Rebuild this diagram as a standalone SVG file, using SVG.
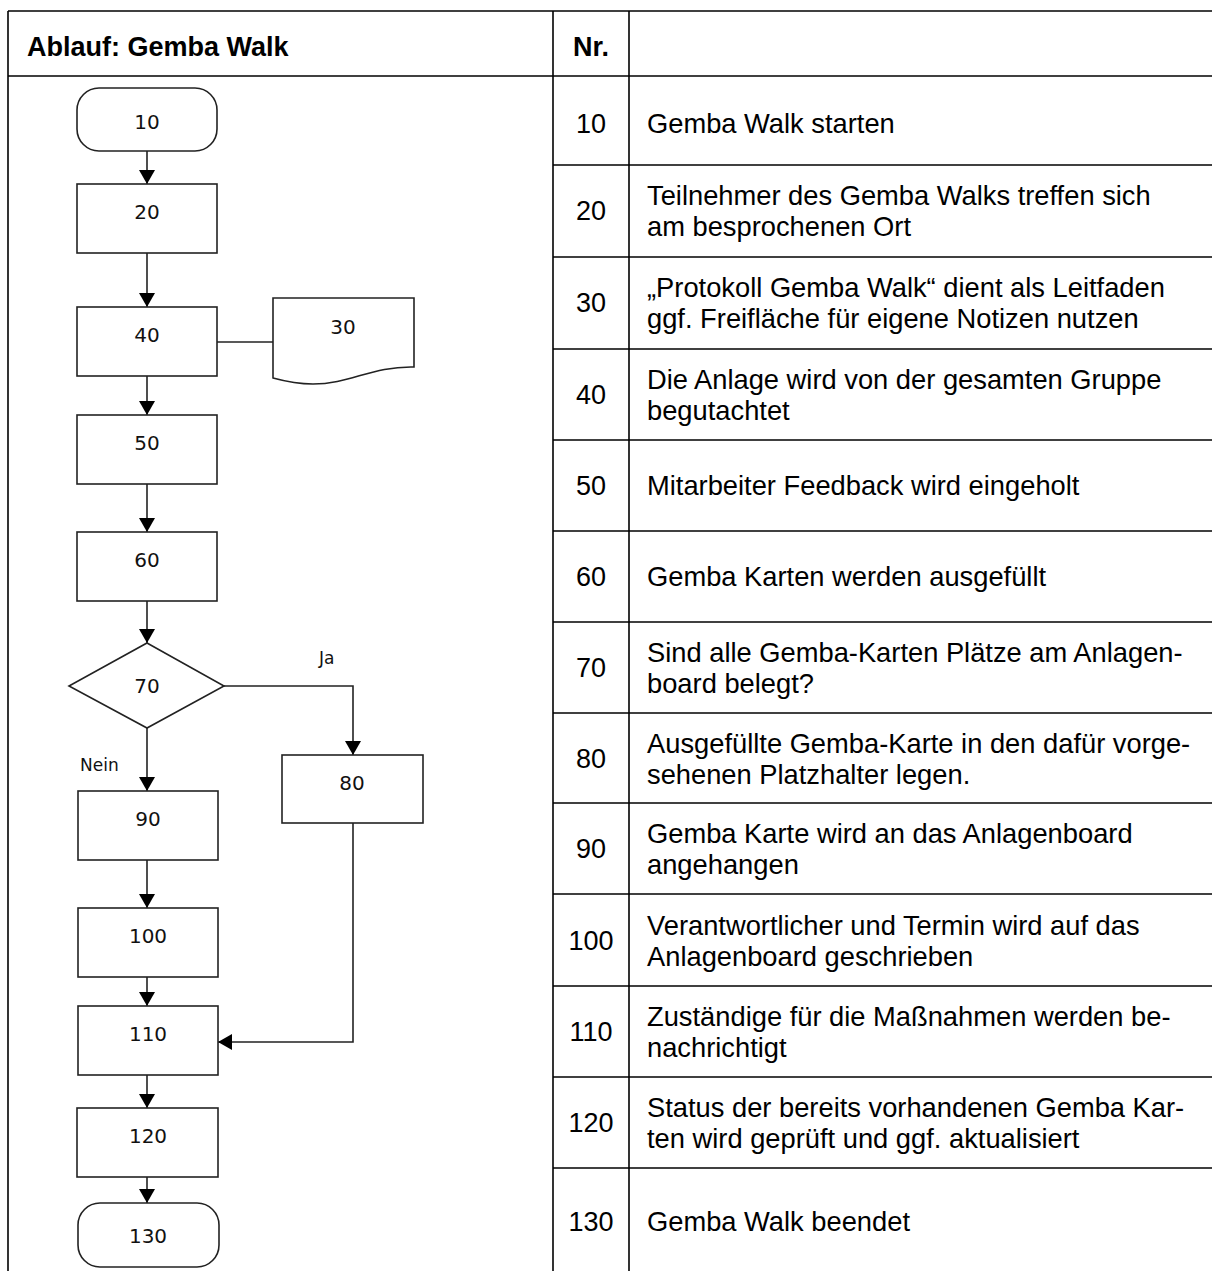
<svg xmlns="http://www.w3.org/2000/svg" width="1212" height="1271" viewBox="0 0 1212 1271">
  <style>
    .grid { stroke: #000; stroke-width: 1.6; fill: none; }
    .shape { fill: #fff; stroke: #222; stroke-width: 1.6; }
    .flow { fill: none; stroke: #222; stroke-width: 1.6; }
    .num { font-family: "DejaVu Sans", Verdana, sans-serif; font-size: 20px; fill: #111; text-anchor: middle; }
    .lbl { font-family: "DejaVu Sans", Verdana, sans-serif; font-size: 17px; fill: #111; }
    .hd { font-family: "Liberation Sans", Arial, sans-serif; font-size: 27px; font-weight: bold; fill: #000; }
    .cell { font-family: "Liberation Sans", Arial, sans-serif; font-size: 27.3px; fill: #000; }
    .nr { font-family: "Liberation Sans", Arial, sans-serif; font-size: 27px; fill: #000; text-anchor: middle; }
  </style>
  <defs>
    <marker id="arrow" markerWidth="14" markerHeight="16" refX="14" refY="8" orient="auto" markerUnits="userSpaceOnUse" viewBox="0 0 14 16">
      <path d="M0,0 L14,8 L0,16 Z" fill="#000"/>
    </marker>
  </defs>

  <rect width="1212" height="1271" fill="#fff"/>

  <!-- table frame -->
  <g id="table">
    <line class="grid" x1="8" y1="11" x2="1212" y2="11"/>
    <line class="grid" x1="8" y1="76" x2="1212" y2="76"/>
    <line class="grid" x1="8" y1="11" x2="8" y2="1271"/>
    <line class="grid" x1="553" y1="11" x2="553" y2="1271"/>
    <line class="grid" x1="629" y1="11" x2="629" y2="1271"/>
    <g id="row-lines">
      <line class="grid" x1="553" y1="165" x2="1212" y2="165"/>
      <line class="grid" x1="553" y1="257" x2="1212" y2="257"/>
      <line class="grid" x1="553" y1="349" x2="1212" y2="349"/>
      <line class="grid" x1="553" y1="440" x2="1212" y2="440"/>
      <line class="grid" x1="553" y1="531" x2="1212" y2="531"/>
      <line class="grid" x1="553" y1="622" x2="1212" y2="622"/>
      <line class="grid" x1="553" y1="713" x2="1212" y2="713"/>
      <line class="grid" x1="553" y1="803" x2="1212" y2="803"/>
      <line class="grid" x1="553" y1="894" x2="1212" y2="894"/>
      <line class="grid" x1="553" y1="986" x2="1212" y2="986"/>
      <line class="grid" x1="553" y1="1077" x2="1212" y2="1077"/>
      <line class="grid" x1="553" y1="1168" x2="1212" y2="1168"/>
    </g>
    <text class="hd" x="27" y="56">Ablauf: Gemba Walk</text>
    <text class="hd" x="591" y="56" text-anchor="middle">Nr.</text>
  </g>

  <!-- step numbers and descriptions -->
  <g id="rows">
    <g id="row-10"><text class="nr" x="591" y="133">10</text><text class="cell" x="647" y="133">Gemba Walk starten</text></g>
    <g id="row-20"><text class="nr" x="591" y="220">20</text><text class="cell" x="647" y="205">Teilnehmer des Gemba Walks treffen sich</text><text class="cell" x="647" y="236">am besprochenen Ort</text></g>
    <g id="row-30"><text class="nr" x="591" y="312">30</text><text class="cell" x="647" y="297">„Protokoll Gemba Walk“ dient als Leitfaden</text><text class="cell" x="647" y="328">ggf. Freifläche für eigene Notizen nutzen</text></g>
    <g id="row-40"><text class="nr" x="591" y="404">40</text><text class="cell" x="647" y="389">Die Anlage wird von der gesamten Gruppe</text><text class="cell" x="647" y="420">begutachtet</text></g>
    <g id="row-50"><text class="nr" x="591" y="495">50</text><text class="cell" x="647" y="495">Mitarbeiter Feedback wird eingeholt</text></g>
    <g id="row-60"><text class="nr" x="591" y="586">60</text><text class="cell" x="647" y="586">Gemba Karten werden ausgefüllt</text></g>
    <g id="row-70"><text class="nr" x="591" y="677">70</text><text class="cell" x="647" y="662">Sind alle Gemba-Karten Plätze am Anlagen-</text><text class="cell" x="647" y="693">board belegt?</text></g>
    <g id="row-80"><text class="nr" x="591" y="768">80</text><text class="cell" x="647" y="753">Ausgefüllte Gemba-Karte in den dafür vorge-</text><text class="cell" x="647" y="784">sehenen Platzhalter legen.</text></g>
    <g id="row-90"><text class="nr" x="591" y="858">90</text><text class="cell" x="647" y="843">Gemba Karte wird an das Anlagenboard</text><text class="cell" x="647" y="874">angehangen</text></g>
    <g id="row-100"><text class="nr" x="591" y="950">100</text><text class="cell" x="647" y="935">Verantwortlicher und Termin wird auf das</text><text class="cell" x="647" y="966">Anlagenboard geschrieben</text></g>
    <g id="row-110"><text class="nr" x="591" y="1041">110</text><text class="cell" x="647" y="1026">Zuständige für die Maßnahmen werden be-</text><text class="cell" x="647" y="1057">nachrichtigt</text></g>
    <g id="row-120"><text class="nr" x="591" y="1132">120</text><text class="cell" x="647" y="1117">Status der bereits vorhandenen Gemba Kar-</text><text class="cell" x="647" y="1148">ten wird geprüft und ggf. aktualisiert</text></g>
    <g id="row-130"><text class="nr" x="591" y="1231">130</text><text class="cell" x="647" y="1231">Gemba Walk beendet</text></g>
  </g>

  <!-- connectors -->
  <g id="connectors">
    <line class="flow" x1="147" y1="151" x2="147" y2="184" marker-end="url(#arrow)"/>
    <line class="flow" x1="147" y1="253" x2="147" y2="307" marker-end="url(#arrow)"/>
    <line class="flow" x1="147" y1="376" x2="147" y2="415" marker-end="url(#arrow)"/>
    <line class="flow" x1="147" y1="484" x2="147" y2="532" marker-end="url(#arrow)"/>
    <line class="flow" x1="147" y1="601" x2="147" y2="643" marker-end="url(#arrow)"/>
    <line class="flow" x1="147" y1="728" x2="147" y2="791" marker-end="url(#arrow)"/>
    <polyline class="flow" points="224,686 353,686 353,755" marker-end="url(#arrow)"/>
    <line class="flow" x1="147" y1="860" x2="147" y2="908" marker-end="url(#arrow)"/>
    <line class="flow" x1="147" y1="977" x2="147" y2="1006" marker-end="url(#arrow)"/>
    <polyline class="flow" points="353,823 353,1042 218,1042" marker-end="url(#arrow)"/>
    <line class="flow" x1="147" y1="1075" x2="147" y2="1108" marker-end="url(#arrow)"/>
    <line class="flow" x1="147" y1="1177" x2="147" y2="1203" marker-end="url(#arrow)"/>
    <line class="flow" x1="217" y1="342" x2="273" y2="342"/>
    <text class="lbl" x="319" y="664">Ja</text>
    <text class="lbl" x="80" y="771">Nein</text>
  </g>

  <!-- flowchart nodes -->
  <g id="node-10"><rect class="shape" x="77" y="88" width="140" height="63" rx="22"/><text class="num" x="147" y="129">10</text></g>
  <g id="node-20"><rect class="shape" x="77" y="184" width="140" height="69"/><text class="num" x="147" y="219">20</text></g>
  <g id="node-40"><rect class="shape" x="77" y="307" width="140" height="69"/><text class="num" x="147" y="342">40</text></g>
  <g id="node-30"><path class="shape" d="M273,298 H414 V367 C372,366 350,384 313,384 C296,384 284,381 273,378 Z"/><text class="num" x="343" y="334">30</text></g>
  <g id="node-50"><rect class="shape" x="77" y="415" width="140" height="69"/><text class="num" x="147" y="450">50</text></g>
  <g id="node-60"><rect class="shape" x="77" y="532" width="140" height="69"/><text class="num" x="147" y="567">60</text></g>
  <g id="node-70"><polygon class="shape" points="147,643 224,686 147,728 69,686"/><text class="num" x="147" y="693">70</text></g>
  <g id="node-80"><rect class="shape" x="282" y="755" width="141" height="68"/><text class="num" x="352" y="790">80</text></g>
  <g id="node-90"><rect class="shape" x="78" y="791" width="140" height="69"/><text class="num" x="148" y="826">90</text></g>
  <g id="node-100"><rect class="shape" x="78" y="908" width="140" height="69"/><text class="num" x="148" y="943">100</text></g>
  <g id="node-110"><rect class="shape" x="78" y="1006" width="140" height="69"/><text class="num" x="148" y="1041">110</text></g>
  <g id="node-120"><rect class="shape" x="77" y="1108" width="141" height="69"/><text class="num" x="148" y="1143">120</text></g>
  <g id="node-130"><rect class="shape" x="78" y="1203" width="141" height="64" rx="22"/><text class="num" x="148" y="1243">130</text></g>
</svg>
